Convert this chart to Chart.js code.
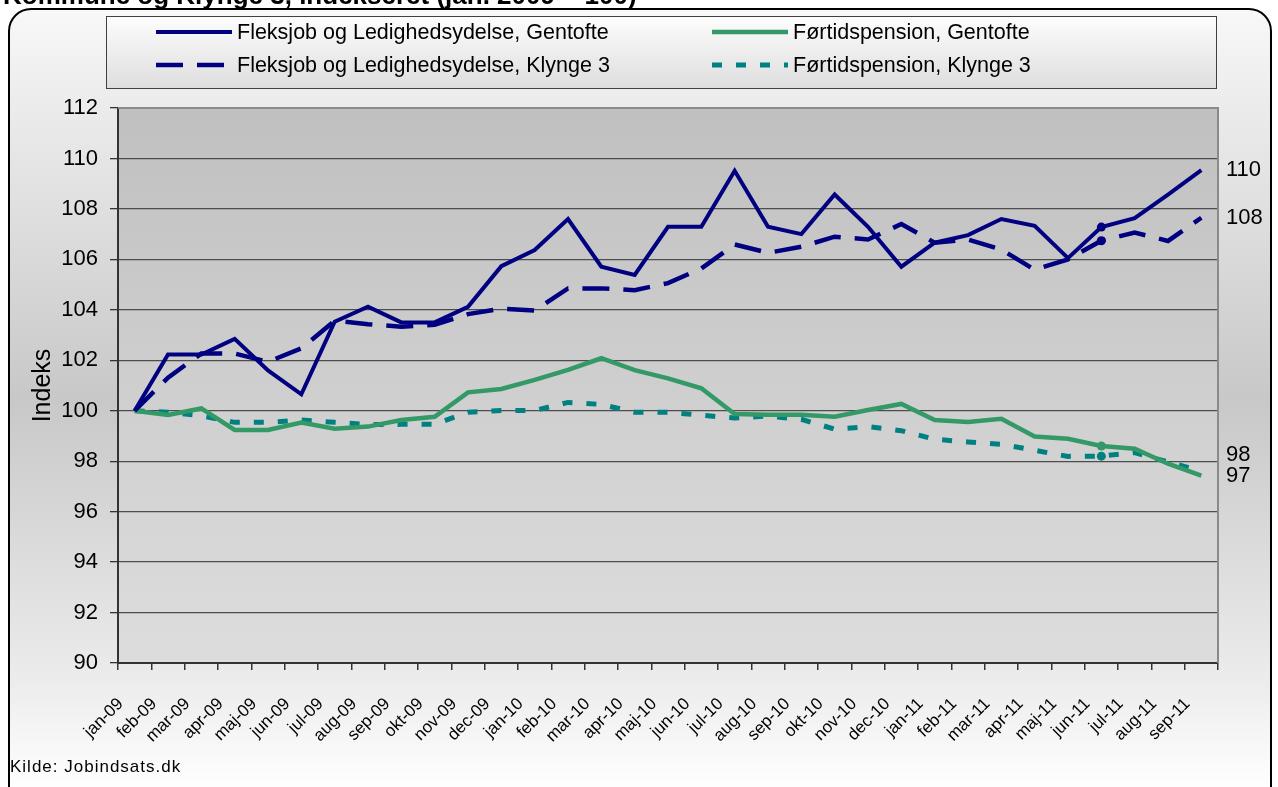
<!DOCTYPE html>
<html>
<head>
<meta charset="utf-8">
<script src="https://cdn.jsdelivr.net/npm/chart.js@4/dist/chart.umd.min.js"></script>
<style>
  html, body { margin: 0; padding: 0; background: #fff; overflow: hidden; }
  #wrap { width: 1278px; height: 787px; position: relative; }
</style>
</head>
<body>
<div id="wrap"><canvas id="myChart"></canvas></div>
<script>
var months = ['jan-09', 'feb-09', 'mar-09', 'apr-09', 'maj-09', 'jun-09', 'jul-09', 'aug-09', 'sep-09', 'okt-09', 'nov-09', 'dec-09',
              'jan-10', 'feb-10', 'mar-10', 'apr-10', 'maj-10', 'jun-10', 'jul-10', 'aug-10', 'sep-10', 'okt-10', 'nov-10', 'dec-10',
              'jan-11', 'feb-11', 'mar-11', 'apr-11', 'maj-11', 'jun-11', 'jul-11', 'aug-11', 'sep-11'];

var fleksGentofte = [100, 102.23, 102.23, 102.85, 101.6, 100.65, 103.53, 104.12, 103.5, 103.5, 104.12, 105.73,
                     106.37, 107.6, 105.71, 105.38, 107.29, 107.29, 109.51, 107.29, 107.0, 108.57, 107.29, 105.71,
                     106.66, 106.96, 107.6, 107.33, 106.05, 107.28, 107.63, 108.57, 109.54];
var fleksKlynge3 = [100, 101.31, 102.27, 102.27, 101.94, 102.47, 103.57, 103.43, 103.33, 103.41, 103.83, 104.04,
                    103.97, 104.85, 104.85, 104.78, 105.06, 105.64, 106.59, 106.26, 106.5, 106.9, 106.79, 107.4,
                    106.66, 106.79, 106.39, 105.59, 106.0, 106.74, 107.06, 106.73, 107.65];
var foertidGentofte = [100, 99.83, 100.09, 99.24, 99.24, 99.53, 99.29, 99.37, 99.63, 99.76, 100.73, 100.86,
                       101.22, 101.62, 102.08, 101.61, 101.28, 100.89, 99.87, 99.84, 99.84, 99.76, 100.03, 100.27,
                       99.63, 99.55, 99.68, 98.98, 98.89, 98.6, 98.49, 97.9, 97.43];
var foertidKlynge3 = [100, 99.94, 99.8, 99.54, 99.54, 99.63, 99.54, 99.45, 99.46, 99.46, 99.94, 100.01,
                      100.01, 100.33, 100.25, 99.94, 99.94, 99.82, 99.71, 99.79, 99.66, 99.27, 99.37, 99.21,
                      98.87, 98.76, 98.67, 98.43, 98.19, 98.2, 98.34, 97.97, 97.6];

var yMin = 90, yMax = 112, yStep = 2;
var markedIndex = 29;   // jun-11 has a marker on every series

var FONT = "'Liberation Sans', Arial, sans-serif";
Chart.defaults.font.family = FONT;
Chart.defaults.color = '#000';

function marker(ctx) { return ctx.dataIndex === markedIndex ? 4.5 : 0; }

// frame, legend box, plot background, source text
var decor = {
    id: 'decor',
    beforeDraw: function(chart) {
        var c = chart.ctx, a = chart.chartArea;
        c.save();
        c.fillStyle = '#fff';
        c.fillRect(0, 0, chart.width, chart.height);

        // outer rounded frame
        var g = c.createLinearGradient(0, 9, 0, 790);
        g.addColorStop(0, '#f8f8f8');
        g.addColorStop(0.12, '#ececec');
        g.addColorStop(0.5, '#c8c8c8');
        g.addColorStop(0.86, '#ececec');
        g.addColorStop(1, '#ffffff');
        c.beginPath();
        c.roundRect(9, 9, 1262, 800, 22);
        c.fillStyle = g;
        c.fill();
        c.lineWidth = 2;
        c.strokeStyle = '#000';
        c.stroke();

        // cut-off title line
        c.fillStyle = '#000';
        c.font = "bold 26px " + FONT;
        c.textBaseline = 'alphabetic';
        c.fillText('Kommune og Klynge 3, indekseret (jan. 2009 = 100)', 3, 4);

        // plot area
        var pg = c.createLinearGradient(0, a.top, 0, a.bottom);
        pg.addColorStop(0, '#c0c0c0');
        pg.addColorStop(1, '#dddddd');
        c.fillStyle = pg;
        c.fillRect(a.left, a.top, a.right - a.left, a.bottom - a.top);

        // legend box
        var lg = c.createLinearGradient(0, 16, 0, 88);
        lg.addColorStop(0, '#fdfdfd');
        lg.addColorStop(1, '#dedede');
        c.fillStyle = lg;
        c.fillRect(106, 16, 1110, 72);
        c.lineWidth = 1;
        c.strokeStyle = '#404040';
        c.strokeRect(106.5, 16.5, 1110, 72);

        var colX = [156, 712], rowY = [32, 65];
        c.font = "21.5px " + FONT;
        c.textBaseline = 'middle';
        chart.data.datasets.forEach(function(ds, i) {
            var x = colX[Math.floor(i / 2)], y = rowY[i % 2];
            c.beginPath();
            c.setLineDash(ds.borderDash || []);
            c.lineWidth = ds.borderWidth;
            c.strokeStyle = ds.borderColor;
            c.moveTo(x, y);
            c.lineTo(x + 76, y);
            c.stroke();
            c.setLineDash([]);
            c.fillStyle = '#000';
            c.fillText(ds.label, x + 81, y + 1);
        });

        c.font = "17px " + FONT;
        c.letterSpacing = '1px';
        c.fillText('Kilde: Jobindsats.dk', 10, 767);
        c.restore();
    },
    afterDraw: function(chart) {
        var c = chart.ctx, a = chart.chartArea;
        c.save();
        c.strokeStyle = '#8a8a8a';
        c.lineWidth = 2;
        c.beginPath();
        c.moveTo(a.left, a.top);
        c.lineTo(a.right, a.top);
        c.lineTo(a.right, a.bottom);
        c.stroke();

        // value labels at the end of each line
        var shift = [0, 0, 0, -16];
        c.font = "22px " + FONT;
        c.fillStyle = '#000';
        c.textBaseline = 'middle';
        chart.data.datasets.forEach(function(ds, i) {
            var meta = chart.getDatasetMeta(i);
            var last = meta.data[meta.data.length - 1];
            c.fillText(String(Math.round(ds.data[ds.data.length - 1])), a.right + 8, last.y + shift[i]);
        });
        c.restore();
    }
};

var ctx = document.getElementById('myChart').getContext('2d');
var myChart = new Chart(ctx, {
    type: 'line',
    data: {
        labels: months,
        datasets: [{
            label: 'Fleksjob og Ledighedsydelse, Gentofte',
            data: fleksGentofte,
            borderColor: '#000080',
            backgroundColor: '#000080',
            borderWidth: 4,
            pointRadius: marker,
            pointBorderWidth: 0,
            tension: 0
        }, {
            label: 'Fleksjob og Ledighedsydelse, Klynge 3',
            data: fleksKlynge3,
            borderColor: '#000080',
            backgroundColor: '#000080',
            borderWidth: 4.5,
            borderDash: [27, 14],
            pointRadius: marker,
            pointBorderWidth: 0,
            tension: 0
        }, {
            label: 'Førtidspension, Gentofte',
            data: foertidGentofte,
            borderColor: '#339966',
            backgroundColor: '#339966',
            borderWidth: 4.5,
            pointRadius: marker,
            pointBorderWidth: 0,
            tension: 0
        }, {
            label: 'Førtidspension, Klynge 3',
            data: foertidKlynge3,
            borderColor: '#008080',
            backgroundColor: '#008080',
            borderWidth: 5,
            borderDash: [10, 14],
            pointRadius: marker,
            pointBorderWidth: 0,
            tension: 0
        }]
    },
    options: {
        responsive: true,
        maintainAspectRatio: false,
        animation: false,
        layout: { padding: { left: 10, right: 60, top: 108, bottom: 0 } },
        plugins: {
            legend: { display: false },
            tooltip: { enabled: false }
        },
        scales: {
            x: {
                offset: true,
                grid: { offset: true, drawOnChartArea: false, drawTicks: true, tickLength: 7, color: '#333', lineWidth: 1.5 },
                border: { color: '#333', width: 2 },
                ticks: { autoSkip: false, minRotation: 45, maxRotation: 45, padding: 24, labelOffset: -14, font: { size: 17 } },
                afterFit: function(s) { s.height = 124; }
            },
            y: {
                min: yMin,
                max: yMax,
                ticks: { stepSize: yStep, padding: 12, font: { size: 22 } },
                grid: {
                    color: function(c) { return c.tick && c.tick.value === yMax ? 'rgba(0,0,0,0)' : '#4d4d4d'; },
                    tickColor: '#333',
                    lineWidth: 1.3,
                    tickLength: 8
                },
                border: { color: '#333', width: 2 },
                title: { display: true, text: 'Indeks', font: { size: 25 }, padding: { top: 18, bottom: 0 } },
                afterFit: function(s) { s.width = 108; }
            }
        }
    },
    plugins: [decor]
});
</script>
</body>
</html>
